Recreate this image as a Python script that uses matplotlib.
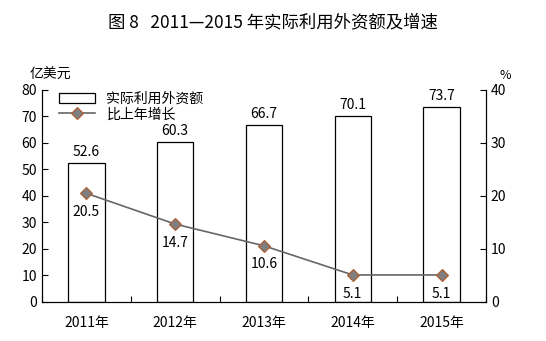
import numpy as np
import matplotlib
matplotlib.use('Agg')
import matplotlib.pyplot as plt

plt.rcParams['font.family'] = ['Noto Sans CJK SC', 'DejaVu Sans']

years = ['2011年', '2012年', '2013年', '2014年', '2015年']
amount = [52.6, 60.3, 66.7, 70.1, 73.7]
growth = [20.5, 14.7, 10.6, 5.1, 5.1]

fig = plt.figure(figsize=(5.46, 3.41), dpi=100)
ax = fig.add_axes([0.077, 0.1144, 0.813, 0.6217])
ax2 = ax.twinx()

x = np.arange(len(years))
ax.bar(x, amount, width=0.41, color='white', edgecolor='black', linewidth=0.9,
       label='实际利用外资额', zorder=2)
for xi, v in zip(x, amount):
    ax.text(xi, v + 1.5, f'{v:.1f}', ha='center', va='bottom', fontsize=10)

ax2.plot(x, growth, color='#666666', linewidth=1.2, marker='D', markersize=6,
         markerfacecolor='#7f7f7f', markeredgecolor='#b05a2a', markeredgewidth=0.8,
         label='比上年增长', zorder=3)
for xi, v in zip(x, growth):
    ax2.text(xi, v - 2.2, f'{v:.1f}', ha='center', va='top', fontsize=10)

ax.set_xlim(-0.5, 4.5)
ax.set_ylim(0, 80)
ax2.set_ylim(0, 40)
ax.set_yticks(range(0, 81, 10))
ax2.set_yticks(range(0, 41, 10))
ax.set_xticks(np.arange(-0.5, 4.6, 1))
ax.set_xticklabels([])
ax.set_xticks(x, minor=True)
ax.set_xticklabels(years, minor=True)
ax.tick_params(axis='x', which='major', direction='in', length=4)
ax.tick_params(axis='x', which='minor', length=0, pad=10, labelsize=10)
ax.tick_params(axis='y', direction='in', length=4, labelsize=10)
ax2.tick_params(axis='y', direction='in', length=4, labelsize=10)

for a in (ax, ax2):
    a.spines['top'].set_visible(False)

fig.text(0.5, 0.935, '图 8   2011—2015 年实际利用外资额及增速', ha='center', va='center',
         fontsize=12.5, fontweight='medium')
fig.text(0.055, 0.78, '亿美元', ha='left', va='center', fontsize=10)
fig.text(0.915, 0.78, '%', ha='left', va='center', fontsize=9)

h1, l1 = ax.get_legend_handles_labels()
h2, l2 = ax2.get_legend_handles_labels()
ax2.legend(h1 + h2, l1 + l2, loc='upper left', bbox_to_anchor=(0.02, 1.03),
           frameon=False, fontsize=10, handlelength=2.6, labelspacing=0.1,
           borderaxespad=0.2)

fig.savefig('out.png', dpi=100)
